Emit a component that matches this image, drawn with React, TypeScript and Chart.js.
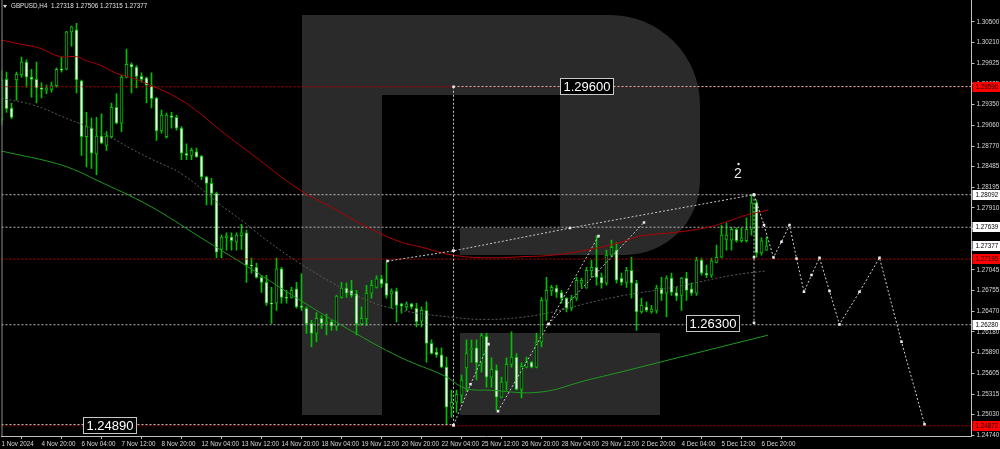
import React, { useEffect, useRef } from 'react';
import { Chart, registerables } from 'chart.js';
Chart.register(...registerables);

const symbolTitle = 'GBPUSD,H4  1.27318 1.27506 1.27315 1.27377';

const timeLabels = ['1 Nov 2024', '4 Nov 20:00', '6 Nov 04:00', '7 Nov 12:00', '8 Nov 20:00', '12 Nov 04:00', '13 Nov 12:00', '14 Nov 20:00', '18 Nov 04:00', '19 Nov 12:00', '20 Nov 20:00', '22 Nov 04:00', '25 Nov 12:00', '26 Nov 20:00', '28 Nov 04:00', '29 Nov 12:00', '2 Dec 20:00', '4 Dec 04:00', '5 Dec 12:00', '6 Dec 20:00'];

const priceTicks = [1.305, 1.3021, 1.29925, 1.29635, 1.2935, 1.2906, 1.2877, 1.28485, 1.28195, 1.2791, 1.2762, 1.2733, 1.27045, 1.26755, 1.2647, 1.2618, 1.2589, 1.25605, 1.25315, 1.2503, 1.2474];

const opens = [1.2913, 1.2970, 1.2930, 1.2969, 1.2976, 1.2994, 1.2973, 1.2970, 1.2958, 1.2955, 1.2956, 1.2961, 1.2984, 1.2984, 1.3036, 1.3039, 1.2968, 1.2890, 1.2902, 1.2866, 1.2891, 1.2878, 1.2890, 1.2931, 1.2909, 1.2973, 1.2991, 1.2987, 1.2974, 1.2972, 1.2961, 1.2944, 1.2898, 1.2890, 1.2919, 1.2917, 1.2902, 1.2867, 1.2864, 1.2869, 1.2863, 1.2834, 1.2825, 1.2811, 1.2733, 1.2749, 1.2750, 1.2743, 1.2752, 1.2756, 1.2711, 1.2708, 1.2694, 1.2687, 1.2658, 1.2658, 1.2706, 1.2666, 1.2666, 1.2678, 1.2654, 1.2651, 1.2630, 1.2616, 1.2637, 1.2629, 1.2632, 1.2626, 1.2666, 1.2679, 1.2676, 1.2671, 1.2629, 1.2636, 1.2672, 1.2680, 1.2692, 1.2686, 1.2671, 1.2675, 1.2657, 1.2653, 1.2657, 1.2651, 1.2633, 1.2648, 1.2602, 1.2590, 1.2586, 1.2569, 1.2513, 1.2520, 1.2530, 1.2568, 1.2594, 1.2596, 1.2575, 1.2612, 1.2555, 1.2565, 1.2527, 1.2548, 1.2573, 1.2583, 1.2538, 1.2569, 1.2576, 1.2569, 1.2604, 1.2662, 1.2675, 1.2679, 1.2673, 1.2665, 1.2651, 1.2665, 1.2686, 1.2679, 1.2703, 1.2708, 1.2694, 1.2686, 1.2725, 1.2732, 1.2693, 1.2687, 1.2704, 1.2686, 1.2646, 1.2653, 1.2646, 1.2648, 1.2679, 1.2672, 1.2693, 1.2673, 1.2669, 1.2693, 1.2678, 1.2672, 1.2718, 1.2700, 1.2697, 1.2715, 1.2722, 1.2747, 1.2746, 1.2761, 1.2745, 1.2745, 1.2761, 1.2798, 1.2728, 1.27318];
const highs = [1.2982, 1.2980, 1.2937, 1.2980, 1.3001, 1.2997, 1.2984, 1.2994, 1.2965, 1.2962, 1.2966, 1.2986, 1.3001, 1.3037, 1.3044, 1.3048, 1.2969, 1.2924, 1.2916, 1.2917, 1.2922, 1.2897, 1.2937, 1.2950, 1.2976, 1.3012, 1.2993, 1.2989, 1.2979, 1.2973, 1.2979, 1.2945, 1.2927, 1.2923, 1.2924, 1.2920, 1.2904, 1.2880, 1.2874, 1.2874, 1.2864, 1.2835, 1.2832, 1.2813, 1.2753, 1.2756, 1.2756, 1.2756, 1.2768, 1.2760, 1.2721, 1.2714, 1.2697, 1.2697, 1.2680, 1.2721, 1.2708, 1.2676, 1.2680, 1.2687, 1.2699, 1.2653, 1.2634, 1.2645, 1.2641, 1.2643, 1.2634, 1.2669, 1.2687, 1.2686, 1.2690, 1.2676, 1.2653, 1.2683, 1.2690, 1.2696, 1.2697, 1.2715, 1.2678, 1.2679, 1.2658, 1.2660, 1.2658, 1.2658, 1.2653, 1.2660, 1.2607, 1.2596, 1.2596, 1.2583, 1.2537, 1.2537, 1.2558, 1.2607, 1.2607, 1.2607, 1.2616, 1.2616, 1.2582, 1.2572, 1.2555, 1.2582, 1.2618, 1.2588, 1.2575, 1.2583, 1.2577, 1.2616, 1.2666, 1.2694, 1.2683, 1.2683, 1.2676, 1.2666, 1.2669, 1.2694, 1.2693, 1.2708, 1.2718, 1.2752, 1.2700, 1.2732, 1.2746, 1.2742, 1.2700, 1.2708, 1.2722, 1.2690, 1.2665, 1.2660, 1.2655, 1.2683, 1.2694, 1.2696, 1.2700, 1.2680, 1.2694, 1.2701, 1.2686, 1.2722, 1.2721, 1.2711, 1.2721, 1.2739, 1.2767, 1.2770, 1.2764, 1.2763, 1.2763, 1.2777, 1.28092, 1.2802, 1.2749, 1.27506];
const lows = [1.2906, 1.2924, 1.2915, 1.2941, 1.2973, 1.2959, 1.2945, 1.2937, 1.2944, 1.2950, 1.2952, 1.2959, 1.2980, 1.2983, 1.3016, 1.2951, 1.2864, 1.2848, 1.2846, 1.2837, 1.2880, 1.2871, 1.2888, 1.2908, 1.2897, 1.2972, 1.2951, 1.2958, 1.2966, 1.2937, 1.2930, 1.2885, 1.2895, 1.2888, 1.2902, 1.2899, 1.2858, 1.2858, 1.2858, 1.2861, 1.2830, 1.2795, 1.2795, 1.2721, 1.2721, 1.2732, 1.2732, 1.2732, 1.2733, 1.2687, 1.2700, 1.2693, 1.2673, 1.2655, 1.2630, 1.2648, 1.2658, 1.2658, 1.2665, 1.2651, 1.2648, 1.2616, 1.2597, 1.2604, 1.2623, 1.2614, 1.2620, 1.2620, 1.2665, 1.2666, 1.2666, 1.2614, 1.2627, 1.2627, 1.2665, 1.2679, 1.2680, 1.2665, 1.2651, 1.2632, 1.2644, 1.2648, 1.2650, 1.2625, 1.2625, 1.2576, 1.2587, 1.2583, 1.2568, 1.2489, 1.2499, 1.2506, 1.2519, 1.2535, 1.2576, 1.2551, 1.2562, 1.2541, 1.2541, 1.2509, 1.2526, 1.2537, 1.2569, 1.2537, 1.2526, 1.2568, 1.2568, 1.2568, 1.2597, 1.2634, 1.2669, 1.2666, 1.2658, 1.2646, 1.2648, 1.2662, 1.2680, 1.2679, 1.2694, 1.2683, 1.2679, 1.2683, 1.2722, 1.2686, 1.2683, 1.2680, 1.2665, 1.2620, 1.2644, 1.2646, 1.2644, 1.2644, 1.2662, 1.2639, 1.2669, 1.2662, 1.2648, 1.2662, 1.2669, 1.2669, 1.2697, 1.2694, 1.2694, 1.2714, 1.2721, 1.2732, 1.2732, 1.2743, 1.2743, 1.2743, 1.2753, 1.2722, 1.2725, 1.27315];
const closes = [1.2969, 1.2929, 1.2917, 1.2977, 1.2994, 1.2973, 1.2970, 1.2958, 1.2956, 1.2958, 1.2961, 1.2984, 1.2983, 1.3036, 1.3043, 1.2969, 1.2890, 1.2904, 1.2867, 1.2891, 1.2881, 1.2891, 1.2931, 1.2909, 1.2973, 1.2991, 1.2987, 1.2974, 1.2970, 1.2962, 1.2943, 1.2898, 1.2920, 1.2920, 1.2917, 1.2902, 1.2867, 1.2864, 1.2871, 1.2862, 1.2834, 1.2825, 1.2811, 1.2729, 1.2750, 1.2752, 1.2745, 1.2753, 1.2756, 1.2711, 1.2710, 1.2694, 1.2687, 1.2658, 1.2657, 1.2706, 1.2666, 1.2665, 1.2676, 1.2653, 1.2652, 1.2629, 1.2616, 1.2637, 1.2630, 1.2632, 1.2626, 1.2668, 1.2679, 1.2672, 1.2669, 1.2629, 1.2637, 1.2672, 1.2683, 1.2692, 1.2685, 1.2669, 1.2675, 1.2655, 1.2654, 1.2657, 1.2653, 1.2632, 1.2648, 1.2602, 1.2588, 1.2586, 1.2569, 1.2513, 1.2520, 1.2531, 1.2551, 1.2588, 1.2595, 1.2575, 1.2613, 1.2555, 1.2566, 1.2527, 1.2548, 1.2573, 1.2583, 1.2538, 1.2570, 1.2576, 1.2569, 1.2604, 1.2662, 1.2676, 1.2680, 1.2673, 1.2665, 1.2651, 1.2665, 1.2690, 1.2690, 1.2704, 1.2708, 1.2694, 1.2686, 1.2725, 1.2736, 1.2690, 1.2687, 1.2704, 1.2686, 1.2646, 1.2655, 1.2648, 1.2650, 1.2679, 1.2671, 1.2693, 1.2673, 1.2668, 1.2693, 1.2676, 1.2672, 1.2718, 1.2700, 1.2697, 1.2717, 1.2722, 1.2753, 1.2753, 1.2761, 1.2745, 1.2749, 1.2761, 1.2798, 1.2728, 1.2745, 1.27377];

// moving averages, sampled along the curve (bar index, price)
const redMaIdx = [0, 3.7, 7.7, 11.7, 15, 17, 19.7, 23, 26.4, 29.7, 35, 39.7, 43.7, 49.7, 59.7, 66.3, 73, 79.7, 83.7, 90.3, 97, 103.7, 110.3, 117, 123.7, 127.7, 135.7, 141.7, 145, 149, 153.4];
const redMaVal = [1.30247, 1.30192, 1.30132, 1.30015, 1.30015, 1.29959, 1.29899, 1.29783, 1.29714, 1.2962, 1.29449, 1.29226, 1.28993, 1.28676, 1.28156, 1.27906, 1.27645, 1.27436, 1.27366, 1.2725, 1.27213, 1.27227, 1.2725, 1.2732, 1.27425, 1.27515, 1.27575, 1.27645, 1.27715, 1.27808, 1.27878];
const greenMaIdx = [0, 3.7, 9.7, 14.4, 18.7, 29.7, 39.7, 49.7, 59.7, 69.7, 79.7, 88.7, 92.7, 97.7, 107.7, 117.1, 123.7, 135.7, 147.7, 153.3];
const greenMaVal = [1.287, 1.28644, 1.28551, 1.28445, 1.28306, 1.27933, 1.27501, 1.27069, 1.26623, 1.26205, 1.25829, 1.25564, 1.25396, 1.25368, 1.25341, 1.25508, 1.25619, 1.25829, 1.26038, 1.26135];
const grayMaIdx = [0, 6.4, 13, 19.7, 26.4, 29.7, 36.4, 43, 48.4, 53, 59.7, 66.4, 73, 79.7, 90.4, 97, 103.7, 110.4, 117, 123.7, 133, 139.7, 146.4, 153];
const grayMaVal = [1.29435, 1.29341, 1.29156, 1.28969, 1.28714, 1.28598, 1.28366, 1.27993, 1.27714, 1.27459, 1.27135, 1.26856, 1.26623, 1.26484, 1.26382, 1.26354, 1.26382, 1.2646, 1.26577, 1.26679, 1.26786, 1.26878, 1.26972, 1.27031];

// horizontal levels
const whiteLevels = [1.28092, 1.27639, 1.2628];
const redLevels = [1.29596, 1.27195, 1.24872];
const axisWhiteLabels = [1.28092, 1.27639, 1.27377, 1.2628];
const axisRedLabels = [1.29596, 1.27195, 1.24872];
const partialLevelVal = [1.296, 1.2489];
const partialLevelFrom = [90.4, 0];
const partialLevelTo = [194, 90.4];

// analyst drawings (bar index, price)
const drawings = [
  { idx: [90.4, 90.4, 90.4], val: [1.29596, 1.2731, 1.24881] },
  { idx: [90.4, 93.8, 97.4], val: [1.24881, 1.2545, 1.2601] },
  { idx: [99.3, 109.4, 119.4], val: [1.25076, 1.2629, 1.27515] },
  { idx: [77.2, 90.4, 113.7, 150.5], val: [1.27167, 1.2731, 1.27627, 1.28092] },
  { idx: [109.4, 128.5], val: [1.2629, 1.27706] },
  { idx: [150.5, 150.5, 150.5], val: [1.28092, 1.2722, 1.26307] },
];
const forecastIdx = [150.5, 152.5, 154.4, 156.0, 157.6, 159.0, 160.5, 162.0, 163.6, 165.6, 167.6, 171.6, 175.6, 180.0, 184.6];
const forecastVal = [1.28092, 1.27669, 1.27218, 1.27436, 1.27669, 1.27204, 1.26739, 1.26972, 1.27213, 1.26749, 1.26284, 1.26739, 1.27213, 1.26042, 1.24894];

const boxTexts = ['1.29600', '1.26300', '1.24890'];
const boxIdx = [111.6, 136.8, 16.4];
const boxVal = [1.296, 1.2631, 1.2489];
const waveTexts = ['2'];
const waveIdx = [147.3];
const waveVal = [1.2838];

const X_MAX = 194;
const FONT = '"Liberation Sans", Arial, sans-serif';
const CANDLE_GREEN = '#00c000';

function pts(idx: number[], val: number[]) {
  return idx.map((x, k) => ({ x, y: val[k] }));
}

const decorPlugin = {
  id: 'decor',
  beforeDraw(chart: any) {
    const { ctx, width, height } = chart;
    ctx.save();
    ctx.fillStyle = '#000';
    ctx.fillRect(0, 0, width, height);
    // broker watermark "R"
    ctx.fillStyle = '#2a2a2a';
    ctx.fillRect(302, 15, 80, 400);
    ctx.beginPath();
    ctx.moveTo(382, 15);
    ctx.lineTo(610, 15);
    ctx.arcTo(700, 15, 700, 105, 90);
    ctx.lineTo(700, 180);
    ctx.arcTo(700, 255, 625, 255, 75);
    ctx.lineTo(460, 255);
    ctx.lineTo(460, 228);
    ctx.lineTo(560, 228);
    ctx.lineTo(560, 95);
    ctx.lineTo(382, 95);
    ctx.closePath();
    ctx.fill();
    ctx.fillRect(460, 333, 200, 82);
    ctx.restore();
  },
  afterDatasetsDraw(chart: any) {
    const { ctx } = chart;
    const xs = chart.scales.x;
    const ys = chart.scales.y;
    ctx.save();
    ctx.font = `13px ${FONT}`;
    ctx.textBaseline = 'middle';
    ctx.textAlign = 'left';
    boxTexts.forEach((t, k) => {
      const x = Math.round(xs.getPixelForValue(boxIdx[k]));
      const y = Math.round(ys.getPixelForValue(boxVal[k]));
      const w = ctx.measureText(t).width + 6;
      ctx.fillStyle = '#000';
      ctx.fillRect(x, y - 8, w, 17);
      ctx.strokeStyle = '#c8c8c8';
      ctx.lineWidth = 1;
      ctx.strokeRect(x + 0.5, y - 7.5, w, 16);
      ctx.fillStyle = '#ffffff';
      ctx.fillText(t, x + 3.5, y + 1);
    });
    ctx.font = `14px ${FONT}`;
    ctx.textAlign = 'center';
    waveTexts.forEach((t, k) => {
      const x = xs.getPixelForValue(waveIdx[k]);
      const y = ys.getPixelForValue(waveVal[k]);
      ctx.fillStyle = '#e8e8e8';
      ctx.fillText(t, x, y);
      ctx.beginPath();
      ctx.arc(x + 0.5, y - 10, 1.2, 0, Math.PI * 2);
      ctx.fill();
    });
    ctx.restore();
  },
  afterDraw(chart: any) {
    const { ctx, chartArea } = chart;
    const ys = chart.scales.y;
    ctx.save();
    // left border
    ctx.strokeStyle = '#8c8c8c';
    ctx.lineWidth = 1;
    ctx.beginPath();
    ctx.moveTo(chartArea.left + 0.5, chartArea.top);
    ctx.lineTo(chartArea.left + 0.5, chartArea.bottom);
    ctx.stroke();
    // title
    ctx.fillStyle = '#e0e0e0';
    ctx.beginPath();
    ctx.moveTo(3, 5);
    ctx.lineTo(7, 5);
    ctx.lineTo(5, 8);
    ctx.closePath();
    ctx.fill();
    ctx.font = `6.3px ${FONT}`;
    ctx.textBaseline = 'middle';
    ctx.textAlign = 'left';
    ctx.fillText(symbolTitle, 11, 6.5);
    // price labels on the axis
    const drawLabel = (v: number, bg: string, fg: string) => {
      const y = Math.round(ys.getPixelForValue(v));
      ctx.fillStyle = bg;
      ctx.fillRect(chartArea.right + 1, y - 5, 1000 - chartArea.right - 1, 10);
      ctx.fillStyle = fg;
      ctx.fillText(v.toFixed(5), chartArea.right + 4, y + 0.5);
    };
    axisWhiteLabels.forEach((v) => drawLabel(v, '#ffffff', '#000000'));
    axisRedLabels.forEach((v) => drawLabel(v, '#ff0000', '#1a0000'));
    ctx.restore();
  },
};

export default function App() {
  const ref = useRef<HTMLCanvasElement | null>(null);
  useEffect(() => {
    document.body.style.margin = '0';
    document.body.style.background = '#000';
    document.body.style.overflow = 'hidden';
    if (!ref.current) return;

    const wickData = opens.map((_, i) => ({ x: i, y: [lows[i], highs[i]] }));
    const bodyData = opens.map((o, i) => {
      const c = closes[i];
      let lo = Math.min(o, c);
      let hi = Math.max(o, c);
      if (hi - lo < 0.00012) {
        const m = (hi + lo) / 2;
        lo = m - 0.00006;
        hi = m + 0.00006;
      }
      return { x: i, y: [lo, hi] };
    });

    const lineBase = {
      type: 'line' as const,
      pointRadius: 0,
      borderWidth: 1,
      fill: false,
    };

    const datasets: any[] = [];
    whiteLevels.forEach((v) =>
      datasets.push({ ...lineBase, data: [{ x: 0, y: v }, { x: X_MAX, y: v }], borderColor: '#b8b8b8', borderDash: [2, 2], order: 8 })
    );
    redLevels.forEach((v) =>
      datasets.push({ ...lineBase, data: [{ x: 0, y: v }, { x: X_MAX, y: v }], borderColor: '#c00000', borderDash: [2, 2], order: 8 })
    );
    partialLevelVal.forEach((v, k) =>
      datasets.push({ ...lineBase, data: [{ x: partialLevelFrom[k], y: v }, { x: partialLevelTo[k], y: v }], borderColor: '#b8b8b8', borderDash: [2, 2], order: 7 })
    );
    datasets.push({ ...lineBase, data: pts(grayMaIdx, grayMaVal), borderColor: '#5a5a5a', borderDash: [2, 2], tension: 0.4, order: 6 });
    datasets.push({ ...lineBase, data: pts(redMaIdx, redMaVal), borderColor: '#b00000', tension: 0.4, order: 5 });
    datasets.push({ ...lineBase, data: pts(greenMaIdx, greenMaVal), borderColor: '#1e9a1e', tension: 0.4, order: 5 });
    datasets.push({
      type: 'bar',
      data: wickData,
      backgroundColor: CANDLE_GREEN,
      barThickness: 1,
      grouped: false,
      order: 11,
    });
    datasets.push({
      type: 'bar',
      data: bodyData,
      backgroundColor: (c: any) => (closes[c.dataIndex] >= opens[c.dataIndex] ? '#000000' : '#ffffff'),
      borderColor: CANDLE_GREEN,
      borderWidth: 1,
      borderSkipped: false,
      barThickness: 3,
      grouped: false,
      order: 10,
    });
    drawings.forEach((d) =>
      datasets.push({
        ...lineBase,
        data: pts(d.idx, d.val),
        borderColor: '#c8c8c8',
        borderDash: [2, 2],
        pointRadius: 1.8,
        pointStyle: 'rect',
        pointBackgroundColor: '#e8e8e8',
        pointBorderWidth: 0,
        order: 1,
      })
    );
    datasets.push({
      ...lineBase,
      data: pts(forecastIdx, forecastVal),
      borderColor: '#d0d0d0',
      borderDash: [2, 2],
      pointRadius: 1.8,
      pointStyle: 'rect',
      pointBackgroundColor: '#eeeeee',
      pointBorderWidth: 0,
      order: 0,
    });

    const chart = new Chart(ref.current, {
      type: 'bar',
      data: { datasets },
      plugins: [decorPlugin],
      options: {
        animation: false,
        responsive: true,
        maintainAspectRatio: false,
        devicePixelRatio: 1,
        events: [],
        layout: { autoPadding: false, padding: { left: 1.5, right: 0, top: 0, bottom: 0 } },
        plugins: { legend: { display: false }, tooltip: { enabled: false } },
        scales: {
          x: {
            type: 'linear',
            min: 0,
            max: X_MAX,
            offset: false,
            grid: { drawOnChartArea: false, drawTicks: true, tickLength: 3, color: '#c0c0c0' },
            border: { display: true, color: '#c0c0c0' },
            ticks: {
              color: '#d8d8d8',
              font: { family: FONT, size: 6.3 },
              maxRotation: 0,
              minRotation: 0,
              autoSkip: false,
              align: 'start',
              padding: 1,
              callback: (v: any) => timeLabels[Math.round(Number(v) / 8)] ?? '',
            },
            afterBuildTicks: (s: any) => {
              s.ticks = timeLabels.map((_, k) => ({ value: k * 8 }));
            },
            afterFit: (s: any) => {
              s.height = 13;
              s.paddingLeft = 0;
              s.paddingRight = 0;
            },
          },
          y: {
            type: 'linear',
            position: 'right',
            min: 1.2473,
            max: 1.30805,
            grid: { drawOnChartArea: false, drawTicks: true, tickLength: 3, color: '#c0c0c0' },
            border: { display: true, color: '#c0c0c0' },
            ticks: {
              color: '#d8d8d8',
              font: { family: FONT, size: 6.3 },
              padding: 2,
              callback: (v: any) => Number(v).toFixed(5),
            },
            afterBuildTicks: (s: any) => {
              s.ticks = priceTicks.map((v) => ({ value: v }));
            },
            afterFit: (s: any) => {
              s.width = 28.5;
              s.paddingTop = 0;
              s.paddingBottom = 0;
            },
          },
        },
      } as any,
    });
    return () => chart.destroy();
  }, []);

  return (
    <div style={{ width: 1000, height: 449, position: 'relative', background: '#000' }}>
      <canvas ref={ref} />
    </div>
  );
}
